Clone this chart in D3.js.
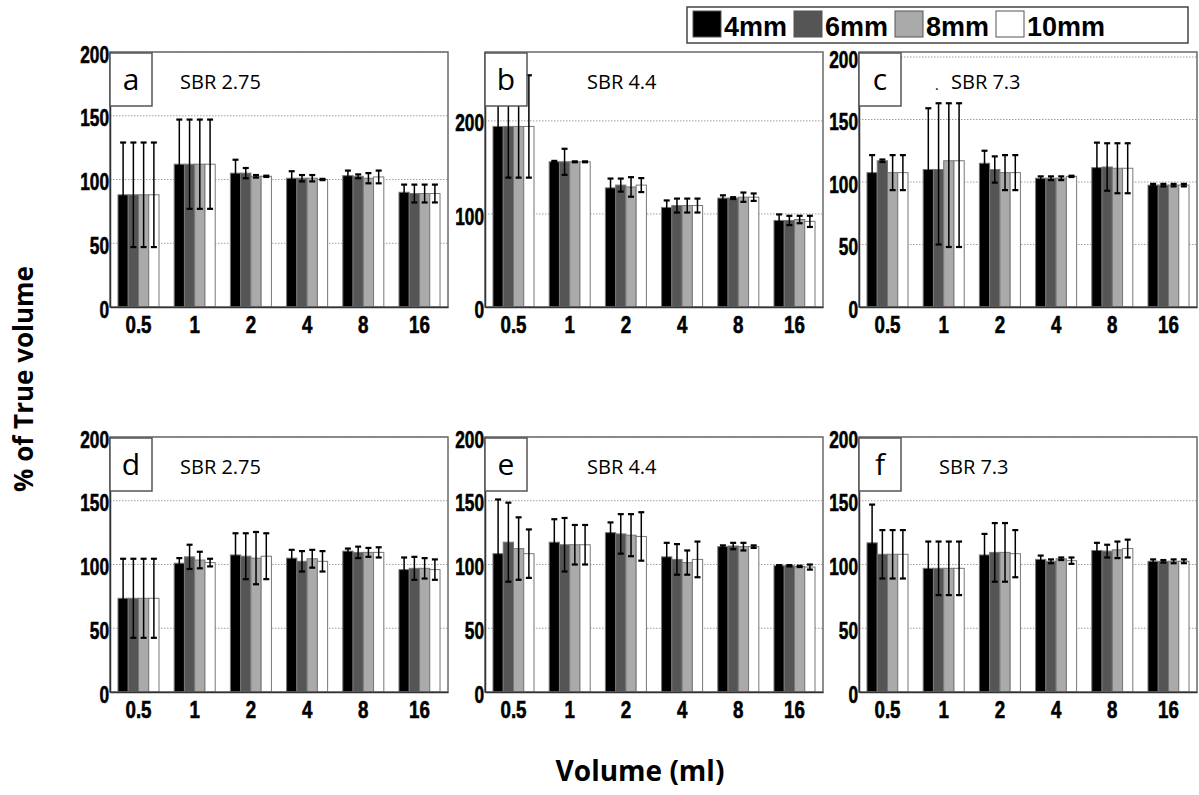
<!DOCTYPE html>
<html>
<head>
<meta charset="utf-8">
<script src="https://cdn.jsdelivr.net/npm/d3@7"></script>
<style>
  body { margin: 0; background: #fff; }
  svg { display: block; }
</style>
</head>
<body>
<svg id="chart" width="1199" height="795"></svg>
<script>
// categories and series
var volumes = ["0.5", "1", "2", "4", "8", "16"];
var sizes = ["4mm", "6mm", "8mm", "10mm"];
var sizeColors = ["#000000", "#555555", "#aaaaaa", "#ffffff"];

// values per volume group: [4mm, 6mm, 8mm, 10mm]
// errors: number = symmetric, [down, up] otherwise
var aVals = [[88, 88, 88, 88], [112, 112, 112, 112], [105, 105, 102.5, 102.5], [101, 101, 101, 100], [103, 102.5, 101, 102], [90, 89, 89, 89]];
var aErr  = [[41, 41, 41, 41], [35, 35, 35, 35], [10.5, 4, 1, 0.5], [5.5, 2.5, 2.5, 0.5], [4, 1.5, 4, 5], [6, 7, 7, 7]];

var bVals = [[194, 194, 194, 194], [156, 156, 156, 156], [128, 131, 129, 131], [107, 109, 109, 109], [117, 117, 118, 118], [93, 93, 94, 92]];
var bErr  = [[55, 55, 55, 55], [1, 14, 0.5, 0.5], [10, 7, 10.5, 7.5], [7.5, 7.5, 7.5, 7.5], [3, 1, 5, 4], [6.5, 5, 4, 6]];

var cVals = [[107.5, 117, 107.5, 107.5], [110, 110, 117, 117], [115, 110, 107.5, 107.5], [103, 103, 103, 104.5], [111.5, 112, 111, 111], [97.5, 97.5, 97.5, 97.5]];
var cErr  = [[14, 1, 14, 14], [49, [60, 53], [69, 46], [69, 46]], [10, 10.5, 14, 14], [1.5, 1.5, 1.5, 0.5], [20, 19, 20, 20], [1, 1, 1, 1]];

var dVals = [[73.5, 73.5, 73.5, 73.5], [101, 106, 103.5, 101.5], [107.5, 106.5, 105, 106.5], [105, 102.5, 104.5, 102.5], [110.5, 109.5, 109.5, 109.5], [96, 97, 97, 96]];
var dErr  = [[31, 31, 31, 31], [4, 9.5, 6.5, 3], [17, 18, 20.5, 18], [6.5, 8, 7, 8], [2, 4.5, 3.5, 4], [9.5, 9, 8, 8]];

var eVals = [[108.5, 117.5, 112.5, 108.5], [117.5, 115.5, 115.5, 115.5], [125, 124, 123, 122], [106, 104, 101.5, 104], [114, 114.5, 114, 114], [99, 99, 98.5, 98]];
var eErr  = [[42.5, 31, 24.5, 19], [18, 21, 15.5, 15.5], [8, 15.5, 16.5, 19], [11, 12, 9.5, 14], [1, 2.5, 3, 1], [0.5, 0.5, 0.5, 2]];

var fVals = [[117, 108, 108, 108], [97, 97, 97, 97], [107.5, 109.5, 109.5, 108.5], [104, 102.5, 104.5, 103], [111, 110.5, 111.5, 112.5], [102.5, 102.5, 102.5, 102.5]];
var fErr  = [[30, 19, 19, 19], [21, 21, 21, 21], [16.5, 23, 23, 18.5], [3, 1.5, 1, 2.5], [6, 5, 6.5, 7], [1.5, 1, 1.5, 1.5]];

var ticks50 = [0, 50, 100, 150, 200];
var ticks100 = [0, 100, 200];

var panels = [
  {letter: "a", title: "SBR 2.75", vals: aVals, errs: aErr, ymax: 200, ticks: ticks50, col: 0, row: 0, tx: 70},
  {letter: "b", title: "SBR 4.4", vals: bVals, errs: bErr, ymax: 274, ticks: ticks100, col: 1, row: 0, tx: 102},
  {letter: "c", title: "SBR 7.3", vals: cVals, errs: cErr, ymax: 204, ticks: ticks50, col: 2, row: 0, tx: 92},
  {letter: "d", title: "SBR 2.75", vals: dVals, errs: dErr, ymax: 200, ticks: ticks50, col: 0, row: 1, tx: 70},
  {letter: "e", title: "SBR 4.4", vals: eVals, errs: eErr, ymax: 200, ticks: ticks50, col: 1, row: 1, tx: 102},
  {letter: "f", title: "SBR 7.3", vals: fVals, errs: fErr, ymax: 200, ticks: ticks50, col: 2, row: 1, tx: 80}
];

var colX = [110, 485, 859];
var rowY = [52, 437];
var pw = 338, ph = 255;

var svg = d3.select("#chart");
var narrow = "'Liberation Sans', Arial, sans-serif";
var calib = "'Open Sans', 'Noto Sans', sans-serif";

// squeeze text horizontally to look like a narrow bold face
function squeeze(sel, k) {
  sel.each(function() {
    var len = this.getComputedTextLength();
    d3.select(this).attr("textLength", len * k).attr("lengthAdjust", "spacingAndGlyphs");
  });
}

var x0 = d3.scaleBand().domain(volumes).range([0, pw]).paddingInner(0.27).paddingOuter(0.142);
var x1 = d3.scaleBand().domain(sizes).range([0, x0.bandwidth()]);

panels.forEach(function(p) {
  var g = svg.append("g").attr("transform", "translate(" + colX[p.col] + "," + rowY[p.row] + ")");
  var y = d3.scaleLinear().domain([0, p.ymax]).range([ph, 0]);

  // grid
  g.selectAll(".grid").data(p.ticks.filter(function(t) { return t > 0; }))
    .enter().append("line")
    .attr("x1", 0).attr("x2", pw)
    .attr("y1", function(d) { return y(d); }).attr("y2", function(d) { return y(d); })
    .attr("stroke", "#a0a0a0").attr("stroke-width", 1).attr("stroke-dasharray", "1.5,1.5");

  var rows = [];
  p.vals.forEach(function(grp, i) {
    grp.forEach(function(v, j) {
      var e = p.errs[i][j];
      var dn = Array.isArray(e) ? e[0] : e;
      var up = Array.isArray(e) ? e[1] : e;
      rows.push({vol: volumes[i], size: sizes[j], c: sizeColors[j], v: v, lo: v - dn, hi: v + up});
    });
  });

  g.selectAll(".bar").data(rows).enter().append("rect")
    .attr("x", function(d) { return x0(d.vol) + x1(d.size); })
    .attr("y", function(d) { return y(d.v); })
    .attr("width", x1.bandwidth())
    .attr("height", function(d) { return ph - y(d.v); })
    .attr("fill", function(d) { return d.c; })
    .attr("stroke", "#777").attr("stroke-width", 1);

  // error bars
  var eb = g.selectAll(".err").data(rows).enter().append("g");
  var cx = function(d) { return x0(d.vol) + x1(d.size) + x1.bandwidth() / 2; };
  eb.append("line")
    .attr("x1", cx).attr("x2", cx)
    .attr("y1", function(d) { return y(d.lo); }).attr("y2", function(d) { return y(d.hi); })
    .attr("stroke", "#000").attr("stroke-width", 1.5);
  eb.append("line")
    .attr("x1", function(d) { return cx(d) - 3; }).attr("x2", function(d) { return cx(d) + 3; })
    .attr("y1", function(d) { return y(d.hi); }).attr("y2", function(d) { return y(d.hi); })
    .attr("stroke", "#000").attr("stroke-width", 2.2);
  eb.append("line")
    .attr("x1", function(d) { return cx(d) - 3; }).attr("x2", function(d) { return cx(d) + 3; })
    .attr("y1", function(d) { return y(d.lo); }).attr("y2", function(d) { return y(d.lo); })
    .attr("stroke", "#000").attr("stroke-width", 2.2);

  // frame
  g.append("rect").attr("width", pw).attr("height", ph)
    .attr("fill", "none").attr("stroke", "#6a6a6a").attr("stroke-width", 1.5);

  // axes
  var ya = g.append("g").call(d3.axisLeft(y).tickValues(p.ticks).tickSize(0).tickPadding(1));
  ya.select(".domain").attr("stroke", "#333").attr("stroke-width", 1.5);
  ya.selectAll("text").attr("font-family", narrow).attr("font-weight", "bold")
    .attr("font-size", 24).attr("fill", "#000").attr("stroke", "#000").attr("stroke-width", 0.6)
    .attr("dy", "0.42em").call(squeeze, 0.72);

  var xa = g.append("g").attr("transform", "translate(0," + ph + ")")
    .call(d3.axisBottom(x0).tickSize(0).tickPadding(9));
  xa.select(".domain").attr("stroke", "#333").attr("stroke-width", 1.5);
  xa.selectAll("text").attr("font-family", narrow).attr("font-weight", "bold")
    .attr("font-size", 24).attr("fill", "#000").attr("stroke", "#000").attr("stroke-width", 0.6)
    .call(squeeze, 0.78);

  // panel letter box
  g.append("rect").attr("x", 0).attr("y", 1).attr("width", 42).attr("height", 53)
    .attr("fill", "#fff").attr("stroke", "#555").attr("stroke-width", 1.5);
  g.append("text").attr("x", 21).attr("y", 38).attr("text-anchor", "middle")
    .attr("font-family", calib).attr("font-size", 30).text(p.letter);

  g.append("text").attr("x", p.tx).attr("y", 37)
    .attr("font-family", calib).attr("font-size", 20).text(p.title);

  if (p.letter === "c") {
    g.append("text").attr("x", 76).attr("y", 38).attr("font-family", calib)
      .attr("font-size", 14).text(".");
  }
});

// legend
var lg = svg.append("g");
lg.append("rect").attr("x", 687).attr("y", 7).attr("width", 501).attr("height", 36)
  .attr("fill", "#fff").attr("stroke", "#444").attr("stroke-width", 1.5);
var li = lg.selectAll(".li").data(sizes).enter().append("g")
  .attr("transform", function(d, i) { return "translate(" + (693 + i * 101) + ",11)"; });
li.append("rect").attr("width", 28).attr("height", 26)
  .attr("fill", function(d, i) { return sizeColors[i]; })
  .attr("stroke", "#555").attr("stroke-width", 1);
li.append("text").attr("x", 31).attr("y", 25)
  .attr("font-family", narrow).attr("font-weight", "bold").attr("font-size", 27)
  .text(function(d) { return d; });

// axis titles
svg.append("text").attr("transform", "translate(33,379) rotate(-90)")
  .attr("text-anchor", "middle").attr("font-family", calib).attr("font-weight", "bold")
  .attr("font-size", 26).text("% of True volume");
svg.append("text").attr("x", 640).attr("y", 781)
  .attr("text-anchor", "middle").attr("font-family", calib).attr("font-weight", "bold")
  .attr("font-size", 28).text("Volume (ml)");
</script>
</body>
</html>
